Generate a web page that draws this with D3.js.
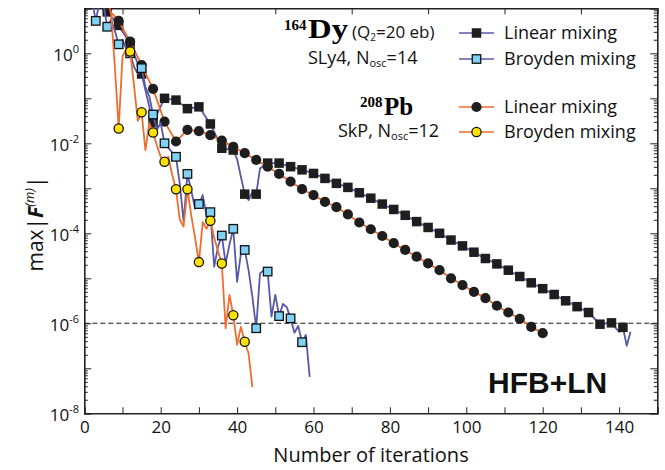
<!DOCTYPE html>
<html>
<head>
<meta charset="UTF-8">
<script src="https://d3js.org/d3.v7.min.js"></script>
<style>
  body { margin: 0; background: #ffffff; }
  svg { display: block; font-family: 'Open Sans', sans-serif; }
  .axis path, .axis line { stroke: #222; }
</style>
</head>
<body>
<svg id="chart" width="665" height="470"></svg>
<script>
// [iteration, log10 max|F|]
const dyLinear = [[0,1.6],[3,1.3],[6,0.92],[9,0.62],[12,0.22],[15,-0.46],[18,-1.54],[21,-1.00],[24,-1.04],
  [27,-1.23],[30,-1.19],[33,-1.57],[36,-2.11],[39,-2.15],[40,-2.35],[41,-2.75],[42,-3.13],[43,-3.26],[44,-3.08],
  [45,-3.13],[46,-2.56],[48,-2.44],[51,-2.44],[54,-2.52],[57,-2.59],[60,-2.67],[63,-2.78],[66,-2.89],[69,-2.98],
  [72,-3.10],[75,-3.22],[78,-3.35],[81,-3.47],[84,-3.60],[87,-3.74],[90,-3.87],[93,-4.00],[96,-4.15],[99,-4.28],
  [102,-4.42],[105,-4.56],[108,-4.68],[111,-4.82],[114,-4.96],[117,-5.10],[120,-5.23],[123,-5.36],[126,-5.50],
  [129,-5.63],[132,-5.76],[135,-6.02],[138,-5.99],[140,-6.19],[141,-6.09],[142,-6.50],[143,-6.19]];

const dyBroyden = [[0,1.35],[1,1.15],[2,1.2],[3,0.72],[4,1.15],[5,1.1],[6,0.59],[7,0.75],[8,0.5],[9,0.20],
  [10,0.3],[11,0.1],[12,0.0],[13,-0.3],[14,-0.45],[15,-0.33],[16,-0.75],[17,-0.95],[18,-1.36],[19,-1.7],
  [20,-1.55],[21,-2.00],[22,-2.1],[23,-2.2],[24,-2.30],[25,-2.9],[26,-3.74],[27,-2.68],[28,-3.05],[29,-3.45],
  [30,-3.35],[31,-3.15],[32,-3.6],[33,-3.53],[34,-4.74],[35,-4.3],[36,-4.05],[37,-4.67],[38,-4.25],[39,-3.90],
  [40,-5.08],[41,-4.45],[42,-4.37],[43,-4.82],[44,-5.41],[45,-6.11],[46,-4.89],[47,-4.82],[48,-4.85],[49,-5.85],
  [50,-5.37],[51,-5.84],[52,-5.57],[53,-5.64],[54,-5.89],[55,-6.21],[56,-6.06],[57,-6.42],[58,-6.26],[59,-7.19]];

const pbLinear = [[0,1.6],[3,1.3],[6,1.0],[9,0.72],[12,0.26],[15,-0.26],[18,-0.79],[21,-1.52],[24,-1.96],
  [27,-1.70],[30,-1.73],[33,-1.82],[36,-1.94],[39,-2.08],[42,-2.22],[45,-2.37],[48,-2.52],[51,-2.68],[54,-2.85],
  [57,-3.02],[60,-3.15],[63,-3.30],[66,-3.42],[69,-3.58],[72,-3.76],[75,-3.91],[78,-4.06],[81,-4.22],[84,-4.37],
  [87,-4.52],[90,-4.67],[93,-4.82],[96,-5.00],[99,-5.15],[102,-5.30],[105,-5.44],[108,-5.61],[111,-5.76],
  [114,-5.90],[117,-6.08],[120,-6.22]];

const pbBroyden = [[0,1.5],[1,1.25],[2,1.35],[3,1.15],[4,1.3],[5,1.1],[6,1.2],[7,0.9],[8,-0.3],[9,-1.67],
  [10,-0.07],[11,0.1],[12,0.04],[13,-0.7],[14,-1.5],[15,-1.31],[16,-2.15],[17,-1.55],[18,-1.76],[19,-2.05],
  [20,-2.3],[21,-2.41],[22,-2.3],[23,-2.7],[24,-3.02],[25,-3.7],[26,-3.85],[27,-3.02],[28,-3.6],[29,-4.1],
  [30,-4.64],[31,-3.75],[32,-3.9],[33,-3.72],[34,-4.1],[35,-4.4],[36,-4.67],[37,-6.11],[38,-5.37],[39,-5.82],
  [40,-6.48],[41,-6.08],[42,-6.41],[43,-6.67],[44,-7.42]];

const xTickLabels = [0, 20, 40, 60, 80, 100, 120, 140];
const yLabelExps = [0, -2, -4, -6, -8];
const threshold = 1e-6;

const blue = "#5858a8", orange = "#f26d2c", cyan = "#7fd2f3", yellow = "#ffe200", dark = "#1e1e1e";

const svg = d3.select("#chart");
const pLeft = 84.3, pRight = 657.3, pTop = 8.3, pBottom = 413.3;

const x = d3.scaleLinear().domain([0, 150]).range([pLeft, pRight]);
const y = d3.scaleLog().domain([1e-8, 10]).range([pBottom, pTop]);

svg.append("defs").append("clipPath").attr("id", "plot")
  .append("rect").attr("x", pLeft).attr("y", pTop).attr("width", pRight - pLeft).attr("height", pBottom - pTop);

// axes, ticks pointing inward
const decades = d3.range(-8, 2).map(e => Math.pow(10, e));
const minors = [];
d3.range(-8, 1).forEach(e => { for (let k = 2; k <= 9; k++) minors.push(k * Math.pow(10, e)); });

svg.append("g").attr("class", "axis").attr("transform", `translate(0,${pBottom})`)
  .call(d3.axisBottom(x).tickValues(d3.range(0, 151, 10)).tickSize(-6).tickPadding(8)
    .tickFormat(d => xTickLabels.includes(d) ? d : ""))
  .call(g => g.selectAll("text").attr("font-size", 17).attr("fill", "#111").attr("font-family", "'Open Sans', sans-serif"));

svg.append("g").attr("class", "axis").attr("transform", `translate(0,${pTop})`)
  .call(d3.axisTop(x).tickValues(d3.range(10, 150, 20)).tickSize(-6).tickFormat(""));

[[d3.axisLeft, pLeft], [d3.axisRight, pRight]].forEach(([ax, pos]) => {
  svg.append("g").attr("class", "axis").attr("transform", `translate(${pos},0)`)
    .call(ax(y).tickValues(decades).tickSize(-7).tickFormat(""));
  svg.append("g").attr("class", "axis").attr("transform", `translate(${pos},0)`)
    .call(ax(y).tickValues(minors).tickSize(-3.5).tickFormat(""))
    .call(g => g.select(".domain").remove());
});

svg.selectAll(".axis .domain").attr("stroke-width", 1.6);

const yl = svg.append("g").attr("fill", "#111");
yLabelExps.forEach(e => {
  const t = yl.append("text").attr("x", 79).attr("y", y(Math.pow(10, e)) + 8)
    .attr("text-anchor", "end").attr("font-size", 17);
  t.append("tspan").text("10");
  t.append("tspan").attr("font-size", 11).attr("dy", -8).text(e === 0 ? "0" : "-" + Math.abs(e));
});

// threshold line
svg.append("line").attr("x1", pLeft).attr("x2", pRight).attr("y1", y(threshold)).attr("y2", y(threshold))
  .attr("stroke", "#222").attr("stroke-width", 1.1).attr("stroke-dasharray", "5,3");

const plot = svg.append("g").attr("clip-path", "url(#plot)");
const line = d3.line().x(d => x(d[0])).y(d => y(Math.pow(10, d[1])));

function drawSeries(data, color, shape, fill, stroke) {
  plot.append("path").datum(data).attr("d", line).attr("fill", "none")
    .attr("stroke", color).attr("stroke-width", 1.8).attr("stroke-linejoin", "round");
  const pts = data.filter(d => d[0] > 0 && d[0] % 3 === 0);
  if (shape === "square") {
    const s = stroke ? 8.5 : 9.5;
    plot.selectAll(null).data(pts).join("rect")
      .attr("x", d => x(d[0]) - s / 2).attr("y", d => y(Math.pow(10, d[1])) - s / 2)
      .attr("width", s).attr("height", s).attr("fill", fill)
      .attr("stroke", stroke || "none").attr("stroke-width", 1.3);
  } else {
    plot.selectAll(null).data(pts).join("circle")
      .attr("cx", d => x(d[0])).attr("cy", d => y(Math.pow(10, d[1])))
      .attr("r", stroke ? 4.6 : 5.1).attr("fill", fill)
      .attr("stroke", stroke || "none").attr("stroke-width", 1.3);
  }
}

drawSeries(dyLinear, blue, "square", dark);
drawSeries(pbLinear, orange, "circle", dark);
drawSeries(dyBroyden, blue, "square", cyan, "#111");
drawSeries(pbBroyden, orange, "circle", yellow, "#111");

// legend
const legendRows = [
  { y: 33, color: blue, shape: "square", fill: dark, label: "Linear mixing" },
  { y: 59, color: blue, shape: "square", fill: cyan, stroke: "#111", label: "Broyden mixing" },
  { y: 107, color: orange, shape: "circle", fill: dark, label: "Linear mixing" },
  { y: 132, color: orange, shape: "circle", fill: yellow, stroke: "#111", label: "Broyden mixing" }
];
const lg = svg.append("g");
legendRows.forEach(r => {
  lg.append("line").attr("x1", 459).attr("x2", 494).attr("y1", r.y).attr("y2", r.y)
    .attr("stroke", r.color).attr("stroke-width", 1.7);
  if (r.shape === "square") {
    const s = r.stroke ? 8.5 : 9.5;
    lg.append("rect").attr("x", 476.5 - s / 2).attr("y", r.y - s / 2).attr("width", s).attr("height", s)
      .attr("fill", r.fill).attr("stroke", r.stroke || "none").attr("stroke-width", 1.3);
  } else {
    lg.append("circle").attr("cx", 476.5).attr("cy", r.y).attr("r", r.stroke ? 4.6 : 5.1)
      .attr("fill", r.fill).attr("stroke", r.stroke || "none").attr("stroke-width", 1.3);
  }
  lg.append("text").attr("x", 504).attr("y", r.y + 6.3).attr("font-size", 18).attr("fill", "#111").text(r.label);
});

// nucleus labels
const serif = "'Liberation Serif', 'Times New Roman', serif";
lg.append("text").attr("x", 284).attr("y", 30).attr("font-family", serif).attr("font-weight", "bold")
  .attr("font-size", 15).text("164");
lg.append("text").attr("x", 308).attr("y", 38).attr("font-family", serif).attr("font-weight", "bold")
  .attr("font-size", 27).attr("textLength", 40).attr("lengthAdjust", "spacingAndGlyphs").text("Dy");
const q = lg.append("text").attr("x", 352).attr("y", 38).attr("font-size", 17).attr("fill", "#111");
q.append("tspan").text("(Q");
q.append("tspan").attr("font-size", 10).attr("dy", 3).text("2");
q.append("tspan").attr("dy", -3).text("=20 eb)");
const s1 = lg.append("text").attr("x", 308).attr("y", 64).attr("font-size", 18).attr("fill", "#111");
s1.append("tspan").text("SLy4, N");
s1.append("tspan").attr("font-size", 11).attr("dy", 3).text("osc");
s1.append("tspan").attr("dy", -3).text("=14");

lg.append("text").attr("x", 360).attr("y", 107).attr("font-family", serif).attr("font-weight", "bold")
  .attr("font-size", 15).text("208");
lg.append("text").attr("x", 384).attr("y", 115).attr("font-family", serif).attr("font-weight", "bold")
  .attr("font-size", 25).text("Pb");
const s2 = lg.append("text").attr("x", 338).attr("y", 137).attr("font-size", 18).attr("fill", "#111");
s2.append("tspan").text("SkP, N");
s2.append("tspan").attr("font-size", 11).attr("dy", 3).text("osc");
s2.append("tspan").attr("dy", -3).text("=12");

svg.append("text").attr("x", 488).attr("y", 393).attr("font-family", "'Liberation Sans', Arial, sans-serif")
  .attr("font-weight", "bold").attr("font-size", 30).attr("fill", "#111").text("HFB+LN");

// axis titles
svg.append("text").attr("x", 371).attr("y", 462).attr("text-anchor", "middle")
  .attr("font-size", 20).attr("fill", "#111").text("Number of iterations");

const yt = svg.append("text").attr("transform", "translate(43,224) rotate(-90)")
  .attr("text-anchor", "middle").attr("font-size", 21).attr("fill", "#111");
yt.append("tspan").text("max|");
yt.append("tspan").attr("font-weight", "bold").attr("font-style", "italic").text("F");
yt.append("tspan").attr("font-size", 13).attr("font-style", "italic").attr("dy", -9).text("(m)");
yt.append("tspan").attr("dy", 9).text("|");
</script>
</body>
</html>
